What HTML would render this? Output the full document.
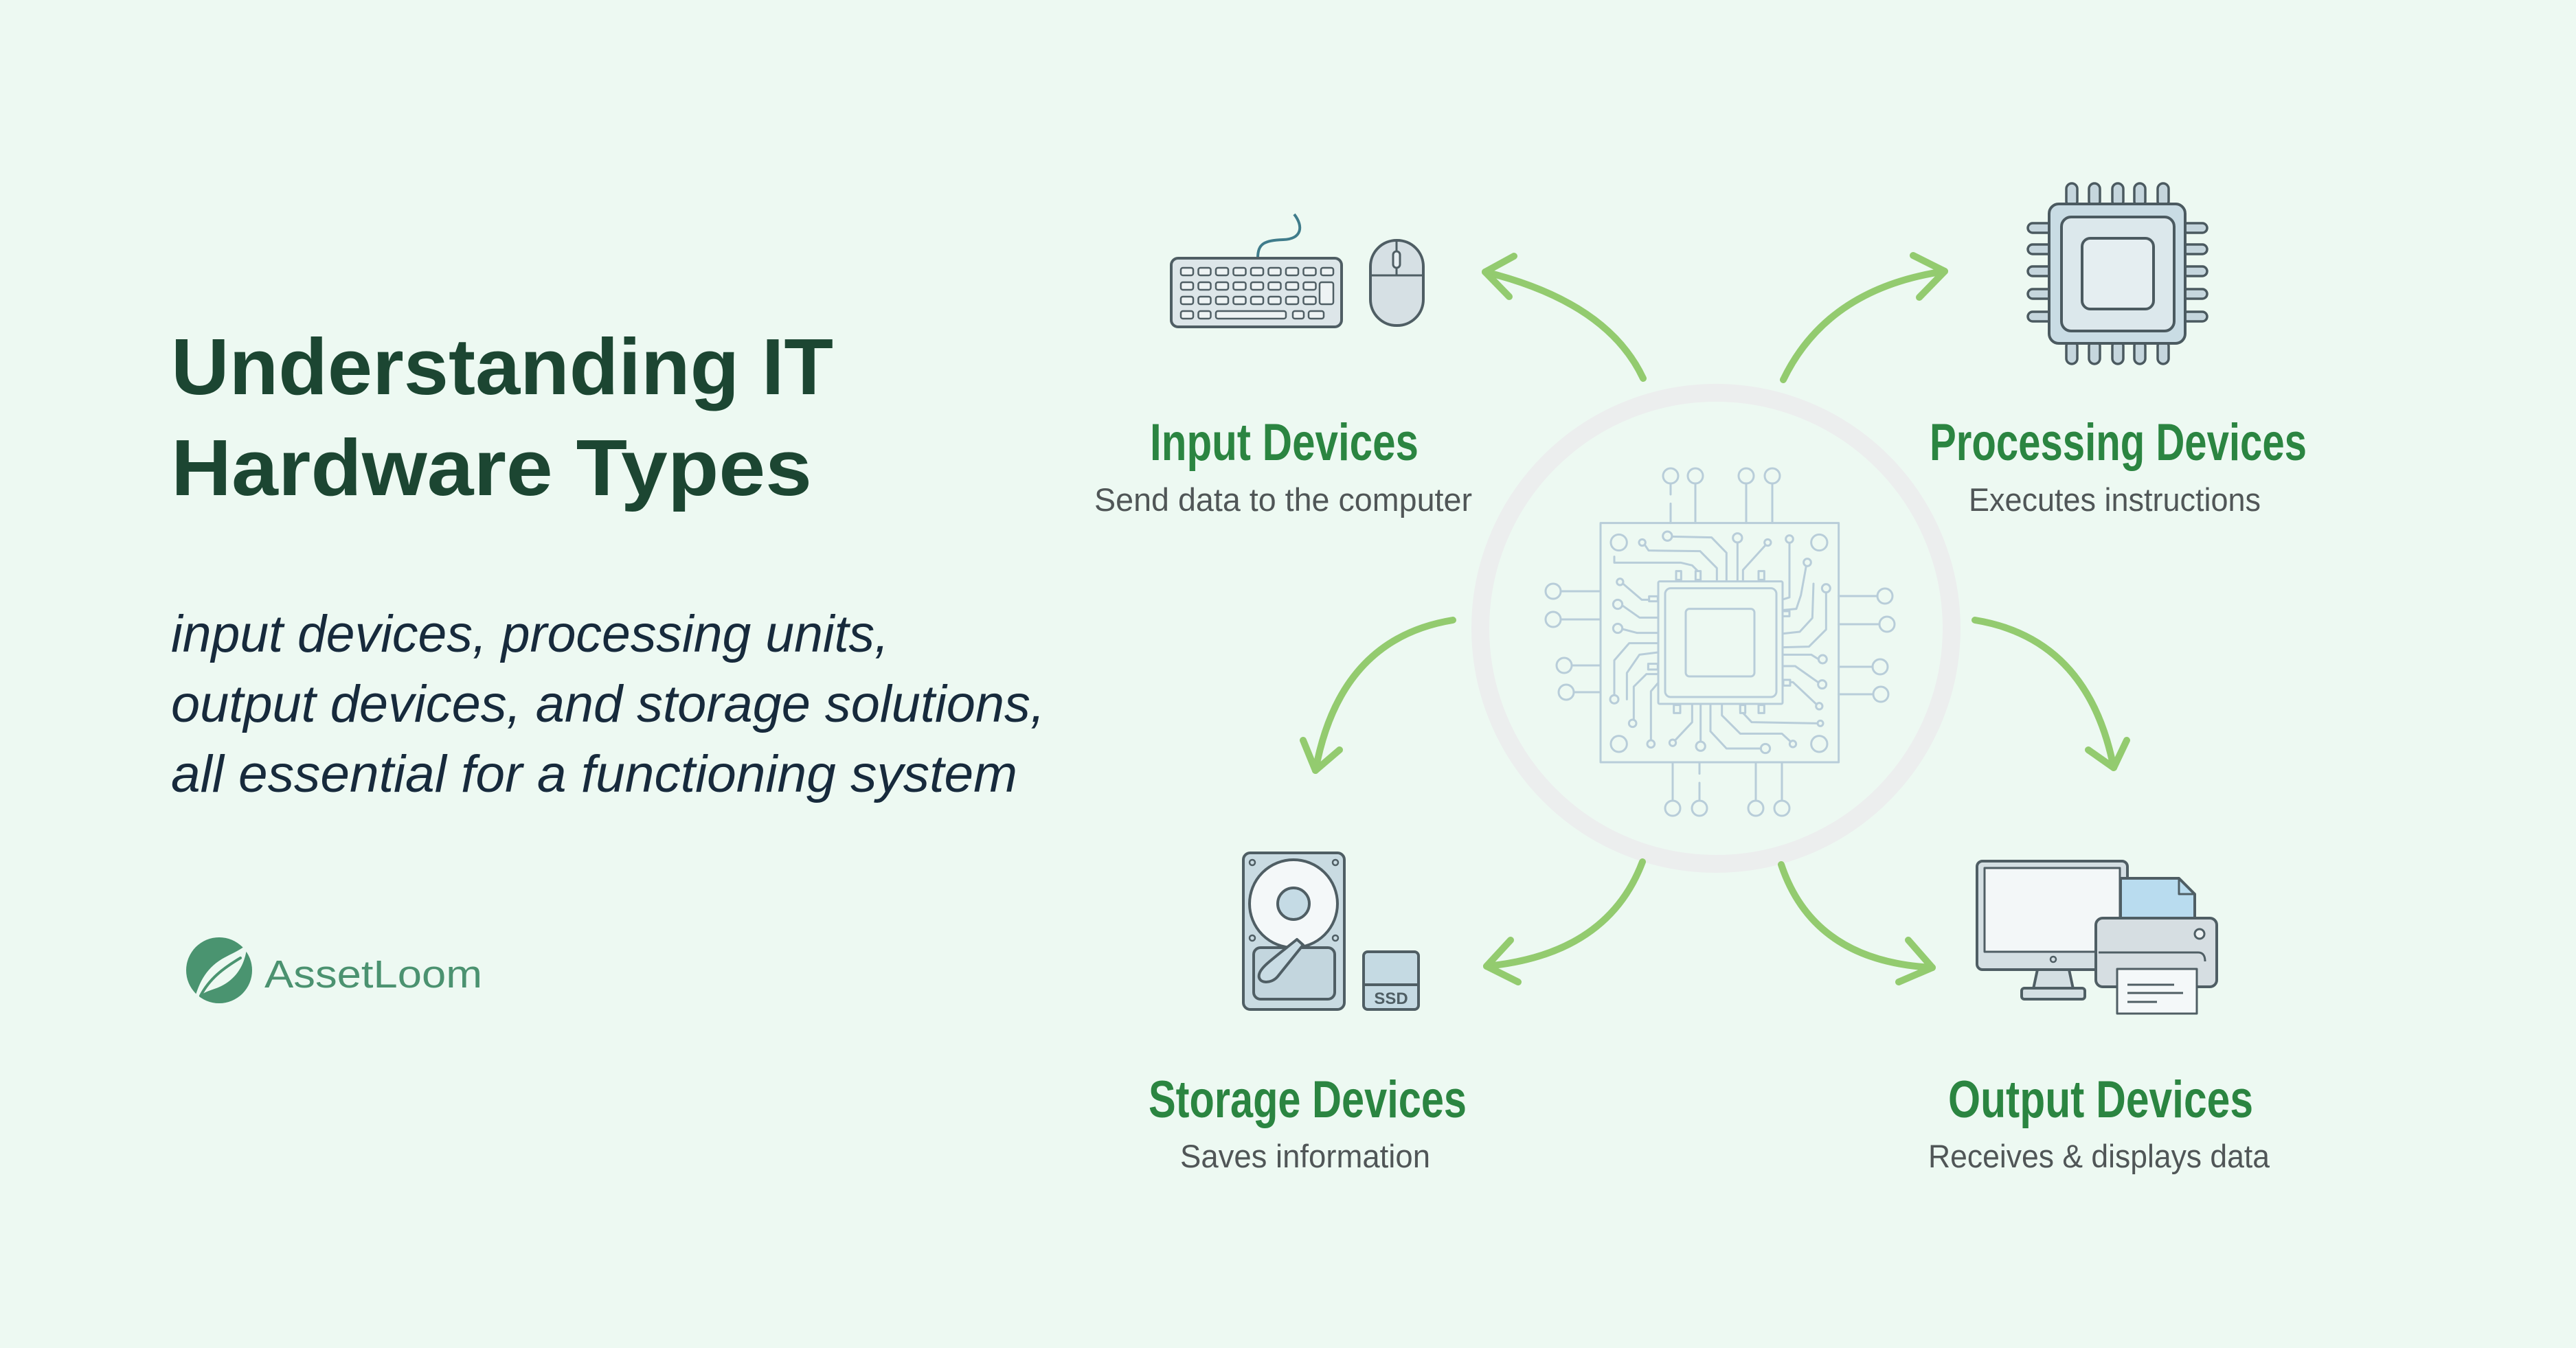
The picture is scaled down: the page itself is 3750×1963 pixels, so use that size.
<!DOCTYPE html>
<html><head><meta charset="utf-8"><style>
html,body{margin:0;padding:0;background:#edf9f2;}
svg{display:block;}
</style></head><body>
<svg width="3750" height="1963" viewBox="0 0 3750 1963" xmlns="http://www.w3.org/2000/svg">
<rect width="3750" height="1963" fill="#edf9f2"/>

<!-- Left text -->
<g font-family="'Liberation Sans', sans-serif">
<text x="249" y="574" font-size="116" font-weight="bold" fill="#1c4632" textLength="964" lengthAdjust="spacingAndGlyphs">Understanding IT</text>
<text x="249" y="721" font-size="116" font-weight="bold" fill="#1c4632" textLength="933" lengthAdjust="spacingAndGlyphs">Hardware Types</text>
<text x="249" y="949" font-size="76" font-style="italic" fill="#172a3c" textLength="1045" lengthAdjust="spacingAndGlyphs">input devices, processing units,</text>
<text x="249" y="1051" font-size="76" font-style="italic" fill="#172a3c" textLength="1272" lengthAdjust="spacingAndGlyphs">output devices, and storage solutions,</text>
<text x="249" y="1153" font-size="76" font-style="italic" fill="#172a3c" textLength="1232" lengthAdjust="spacingAndGlyphs">all essential for a functioning system</text>
<text x="385" y="1438" font-size="57" fill="#4b9270" textLength="317" lengthAdjust="spacingAndGlyphs">AssetLoom</text>
</g>

<!-- Logo -->
<circle cx="319" cy="1413" r="48" fill="#4a9470"/>
<path d="M281 1464 C288 1432 300 1410 324 1396 C340 1387 352 1383 360 1374 C358 1402 346 1424 322 1436 C306 1444 292 1442 281 1464 Z" fill="#edf9f2"/>
<path d="M292 1450 C305 1425 325 1410 350 1395" stroke="#4a9470" stroke-width="4" fill="none" stroke-linecap="round"/>

<!-- Ring -->
<circle cx="2498" cy="915" r="343" fill="none" stroke="#eceeee" stroke-width="26"/>

<!-- Circuit -->
<g transform="translate(2300 740) scale(0.33333)" fill="none" stroke="#b8cdd9" stroke-width="9" stroke-linecap="round" stroke-linejoin="round">
 <rect x="90" y="65" width="1040" height="1045"/>
 <path d="M396 -108 V-60 M396 -20 V65 M504 -108 V65 M726 -108 V65 M840 -108 V65"/>
 <path d="M405 1110 V1278 M522 1110 V1160 M522 1200 V1278 M768 1110 V1278 M882 1110 V1278"/>
 <path d="M-84 363 H90 M-84 486 H90 M-36 687 H90 M-27 804 H90"/>
 <path d="M1130 384 H1299 M1130 507 H1308 M1130 693 H1278 M1130 813 H1281"/>
 <g fill="#edf9f2">
  <circle cx="396" cy="-141" r="33"/><circle cx="504" cy="-141" r="33"/><circle cx="726" cy="-141" r="33"/><circle cx="840" cy="-141" r="33"/>
  <circle cx="405" cy="1311" r="33"/><circle cx="522" cy="1311" r="33"/><circle cx="768" cy="1311" r="33"/><circle cx="882" cy="1311" r="33"/>
  <circle cx="-117" cy="363" r="33"/><circle cx="-117" cy="486" r="33"/><circle cx="-69" cy="687" r="33"/><circle cx="-60" cy="804" r="33"/>
  <circle cx="1332" cy="384" r="33"/><circle cx="1341" cy="507" r="33"/><circle cx="1311" cy="693" r="33"/><circle cx="1314" cy="813" r="33"/>
  <circle cx="170" cy="150" r="35"/><circle cx="1045" cy="150" r="35"/><circle cx="170" cy="1030" r="35"/><circle cx="1045" cy="1030" r="35"/>
 </g>
 <path d="M283 160 L300 185 L525 188 L598 262 L598 318"/>
 <path d="M402 124 L575 128 L640 195 L640 318"/>
 <path d="M150 212 L150 238 L440 238 L490 250 L520 280 L520 300"/>
 <path d="M688 150 L688 318"/>
 <path d="M810 162 L712 270 L712 318"/>
 <path d="M915 151 L915 390 L888 398"/>
 <path d="M988 253 L965 380 L945 440 L888 445"/>
 <path d="M1020 330 L1015 480 L960 540 L888 548"/>
 <path d="M1075 368 L1075 530 L1000 605 L888 608"/>
 <path d="M1042 660 L1010 640 L888 640"/>
 <path d="M1042 762 L940 690 L888 690"/>
 <path d="M1033 857 L930 760 L888 760"/>
 <path d="M1038 940 L750 935 L700 882 L700 857"/>
 <path d="M920 1020 L882 985 L700 985 L620 905 L620 857"/>
 <path d="M790 1050 L640 1050 L570 975 L570 857"/>
 <path d="M527 1020 L527 857"/>
 <path d="M415 1015 L490 935 L490 857"/>
 <path d="M310 1014 L310 800 L340 765"/>
 <path d="M235 924 L235 780 L290 725 L340 725"/>
 <path d="M150 817 L150 665 L215 590 L340 590"/>
 <path d="M205 835 L205 720 L260 640 L340 630"/>
 <path d="M185 528 L250 545 L340 545"/>
 <path d="M185 425 L260 478 L340 478"/>
 <path d="M188 330 L270 400 L340 400"/>
 <g fill="#edf9f2">
  <circle cx="272" cy="150" r="14"/><circle cx="382" cy="122" r="20"/><circle cx="688" cy="130" r="20"/>
  <circle cx="820" cy="150" r="14"/><circle cx="915" cy="135" r="16"/><circle cx="993" cy="237" r="16"/>
  <circle cx="1075" cy="350" r="18"/><circle cx="1060" cy="660" r="18"/><circle cx="1058" cy="770" r="18"/>
  <circle cx="1045" cy="865" r="14"/><circle cx="1050" cy="940" r="12"/><circle cx="930" cy="1030" r="14"/>
  <circle cx="810" cy="1050" r="20"/><circle cx="527" cy="1040" r="20"/><circle cx="405" cy="1025" r="14"/>
  <circle cx="310" cy="1030" r="16"/><circle cx="230" cy="940" r="16"/><circle cx="150" cy="835" r="18"/>
  <circle cx="165" cy="525" r="20"/><circle cx="165" cy="420" r="20"/><circle cx="175" cy="322" r="14"/>
  <rect x="420" y="275" width="22" height="38"/><rect x="505" y="275" width="22" height="38"/><rect x="780" y="275" width="25" height="38"/>
  <rect x="410" y="860" width="28" height="35"/><rect x="700" y="860" width="22" height="35"/><rect x="780" y="860" width="25" height="35"/>
  <rect x="302" y="385" width="38" height="22"/><rect x="298" y="680" width="42" height="25"/>
  <rect x="885" y="450" width="30" height="22"/><rect x="888" y="750" width="30" height="25"/>
  <rect x="342" y="320" width="543" height="535" rx="6"/>
  <rect x="372" y="350" width="486" height="475" rx="24"/>
  <rect x="462" y="440" width="300" height="295" rx="16"/>
 </g>
</g>

<!-- Arrows -->
<g fill="none" stroke="#93cb6f" stroke-width="10" stroke-linecap="round" stroke-linejoin="round">
 <path d="M2392 551 Q2340 440 2162 396"/>
 <path d="M2204 373 L2162 396 L2197 432"/>
 <path d="M2596 553 Q2660 420 2831 395"/>
 <path d="M2785 372 L2831 395 L2794 433"/>
 <path d="M2115 903 Q1950 930 1915 1122"/>
 <path d="M1897 1078 L1915 1122 L1950 1092"/>
 <path d="M2875 903 Q3040 930 3077 1118"/>
 <path d="M3040 1092 L3077 1118 L3096 1078"/>
 <path d="M2391 1255 Q2340 1390 2164 1407"/>
 <path d="M2199 1369 L2164 1407 L2210 1430"/>
 <path d="M2593 1259 Q2640 1400 2813 1409"/>
 <path d="M2778 1369 L2813 1409 L2764 1430"/>
</g>

<!-- Keyboard -->
<g stroke="#4f5e64" stroke-width="4" stroke-linejoin="round">
 <path d="M1831 376 C1831 355 1840 350 1868 349 C1895 348 1898 330 1884 312" fill="none" stroke="#3f7c8b"/>
 <rect x="1705" y="376" width="248" height="100" rx="10" fill="#dde6e9"/>
 <g fill="#eef3f4" stroke-width="2.5">
  <rect x="1719" y="390" width="18" height="11" rx="3"/><rect x="1744.5" y="390" width="18" height="11" rx="3"/><rect x="1770" y="390" width="18" height="11" rx="3"/><rect x="1795.5" y="390" width="18" height="11" rx="3"/><rect x="1821" y="390" width="18" height="11" rx="3"/><rect x="1846.5" y="390" width="18" height="11" rx="3"/><rect x="1872" y="390" width="18" height="11" rx="3"/><rect x="1897.5" y="390" width="18" height="11" rx="3"/><rect x="1923" y="390" width="18" height="11" rx="3"/>
  <rect x="1719" y="411" width="18" height="11" rx="3"/><rect x="1744.5" y="411" width="18" height="11" rx="3"/><rect x="1770" y="411" width="18" height="11" rx="3"/><rect x="1795.5" y="411" width="18" height="11" rx="3"/><rect x="1821" y="411" width="18" height="11" rx="3"/><rect x="1846.5" y="411" width="18" height="11" rx="3"/><rect x="1872" y="411" width="18" height="11" rx="3"/><rect x="1897.5" y="411" width="18" height="11" rx="3"/>
  <rect x="1719" y="432" width="18" height="11" rx="3"/><rect x="1744.5" y="432" width="18" height="11" rx="3"/><rect x="1770" y="432" width="18" height="11" rx="3"/><rect x="1795.5" y="432" width="18" height="11" rx="3"/><rect x="1821" y="432" width="18" height="11" rx="3"/><rect x="1846.5" y="432" width="18" height="11" rx="3"/><rect x="1872" y="432" width="18" height="11" rx="3"/><rect x="1897.5" y="432" width="18" height="11" rx="3"/>
  <rect x="1921" y="411" width="20" height="32" rx="3"/>
  <rect x="1719" y="453" width="18" height="11" rx="3"/><rect x="1744.5" y="453" width="18" height="11" rx="3"/><rect x="1770" y="453" width="102" height="11" rx="3"/><rect x="1882" y="453" width="16" height="11" rx="3"/><rect x="1905" y="453" width="22" height="11" rx="3"/>
 </g>
 <rect x="1995" y="350" width="77" height="124" rx="38" fill="#d6e0e4"/>
 <path d="M1996 401 H2071 M2033 351 V401" fill="none" stroke-width="3"/>
 <rect x="2028" y="366" width="10" height="24" rx="5" fill="#e6eef1" stroke-width="3"/>
</g>

<!-- CPU icon -->
<g stroke="#4b5a60" stroke-width="3.5" fill="#c5d6dd">
 <rect x="3008" y="267" width="16" height="34" rx="8"/><rect x="3041" y="267" width="16" height="34" rx="8"/><rect x="3075" y="267" width="16" height="34" rx="8"/><rect x="3107" y="267" width="16" height="34" rx="8"/><rect x="3141" y="267" width="16" height="34" rx="8"/>
 <rect x="3008" y="496" width="16" height="34" rx="8"/><rect x="3041" y="496" width="16" height="34" rx="8"/><rect x="3075" y="496" width="16" height="34" rx="8"/><rect x="3107" y="496" width="16" height="34" rx="8"/><rect x="3141" y="496" width="16" height="34" rx="8"/>
 <rect x="2952" y="325" width="36" height="14" rx="7"/><rect x="2952" y="356" width="36" height="14" rx="7"/><rect x="2952" y="388" width="36" height="14" rx="7"/><rect x="2952" y="421" width="36" height="14" rx="7"/><rect x="2952" y="454" width="36" height="14" rx="7"/>
 <rect x="3177" y="325" width="36" height="14" rx="7"/><rect x="3177" y="356" width="36" height="14" rx="7"/><rect x="3177" y="388" width="36" height="14" rx="7"/><rect x="3177" y="421" width="36" height="14" rx="7"/><rect x="3177" y="454" width="36" height="14" rx="7"/>
 <rect x="2983" y="297" width="198" height="203" rx="14" fill="#c9dce4" stroke-width="4"/>
 <rect x="3001" y="316" width="164" height="166" rx="14" fill="#dce8ec" stroke-width="4"/>
 <rect x="3031" y="347" width="104" height="103" rx="12" fill="#e5eef1" stroke-width="4"/>
</g>

<!-- Storage icon -->
<g stroke="#4f5e64" stroke-width="4" stroke-linejoin="round">
 <rect x="1810" y="1242" width="147" height="228" rx="10" fill="#c9dbe2"/>
 <circle cx="1883" cy="1316" r="64" fill="#f4f8f9"/>
 <rect x="1825" y="1380" width="118" height="75" rx="10" fill="#c3d6de"/>
 <circle cx="1883" cy="1316" r="23" fill="#c5dbe5"/>
 <path d="M1888 1368 L1897 1376 L1860 1422 C1850 1434 1830 1432 1833 1419 C1835 1409 1848 1400 1888 1368 Z" fill="#c9dce4"/>
 <g fill="none" stroke-width="2.5"><circle cx="1823" cy="1256" r="4"/><circle cx="1944" cy="1256" r="4"/><circle cx="1823" cy="1366" r="4"/><circle cx="1944" cy="1366" r="4"/></g>
 <rect x="1985" y="1386" width="80" height="84" rx="6" fill="#c5dae3"/>
 <path d="M1985 1434 H2065" fill="none"/>
</g>
<text x="2025" y="1462" font-family="'Liberation Sans', sans-serif" font-size="24" font-weight="bold" fill="#4f5e64" text-anchor="middle">SSD</text>

<!-- Output icon -->
<g stroke="#4f5e64" stroke-width="4" stroke-linejoin="round">
 <rect x="2878" y="1254" width="219" height="158" rx="8" fill="#d4dfe3"/>
 <rect x="2889" y="1264" width="197" height="122" fill="#f3f7f8" stroke-width="3"/>
 <circle cx="2989" cy="1397" r="4" fill="none" stroke-width="2.5"/>
 <path d="M2966 1412 L2960 1440 L3018 1440 L3012 1412 Z" fill="#d4dfe3"/>
 <rect x="2943" y="1439" width="92" height="16" rx="4" fill="#d4dfe3"/>
 <path d="M3087 1337 L3087 1279 L3172 1279 L3195 1302 L3195 1337" fill="#b9dcef"/>
 <path d="M3172 1279 L3172 1302 L3195 1302" fill="none" stroke-width="3"/>
 <rect x="3051" y="1337" width="176" height="100" rx="10" fill="#d6dee2"/>
 <circle cx="3202" cy="1360" r="7" fill="#eef3f4" stroke-width="3"/>
 <path d="M3055 1387 L3200 1387 C3207 1387 3210 1392 3210 1400" fill="none" stroke-width="3"/>
 <rect x="3082" y="1411" width="116" height="65" fill="#f4f8f9" stroke-width="3"/>
 <path d="M3097 1434 H3165 M3097 1446 H3178 M3097 1459 H3140" fill="none" stroke-width="3"/>
</g>

<!-- Labels -->
<g font-family="'Liberation Sans Narrow', 'Liberation Sans', sans-serif">
<text x="1674" y="670" font-size="76" font-weight="bold" fill="#2b8541" textLength="391" lengthAdjust="spacingAndGlyphs">Input Devices</text>
<text x="1593" y="744" font-size="47" fill="#505657" textLength="550" lengthAdjust="spacingAndGlyphs">Send data to the computer</text>
<text x="2809" y="670" font-size="76" font-weight="bold" fill="#2b8541" textLength="549" lengthAdjust="spacingAndGlyphs">Processing Devices</text>
<text x="2866" y="744" font-size="47" fill="#505657" textLength="425" lengthAdjust="spacingAndGlyphs">Executes instructions</text>
<text x="1672" y="1627" font-size="76" font-weight="bold" fill="#2b8541" textLength="463" lengthAdjust="spacingAndGlyphs">Storage Devices</text>
<text x="1718" y="1700" font-size="47" fill="#505657" textLength="364" lengthAdjust="spacingAndGlyphs">Saves information</text>
<text x="2836" y="1627" font-size="76" font-weight="bold" fill="#2b8541" textLength="444" lengthAdjust="spacingAndGlyphs">Output Devices</text>
<text x="2807" y="1700" font-size="47" fill="#505657" textLength="497" lengthAdjust="spacingAndGlyphs">Receives &amp; displays data</text>
</g>
</svg>
</body></html>
